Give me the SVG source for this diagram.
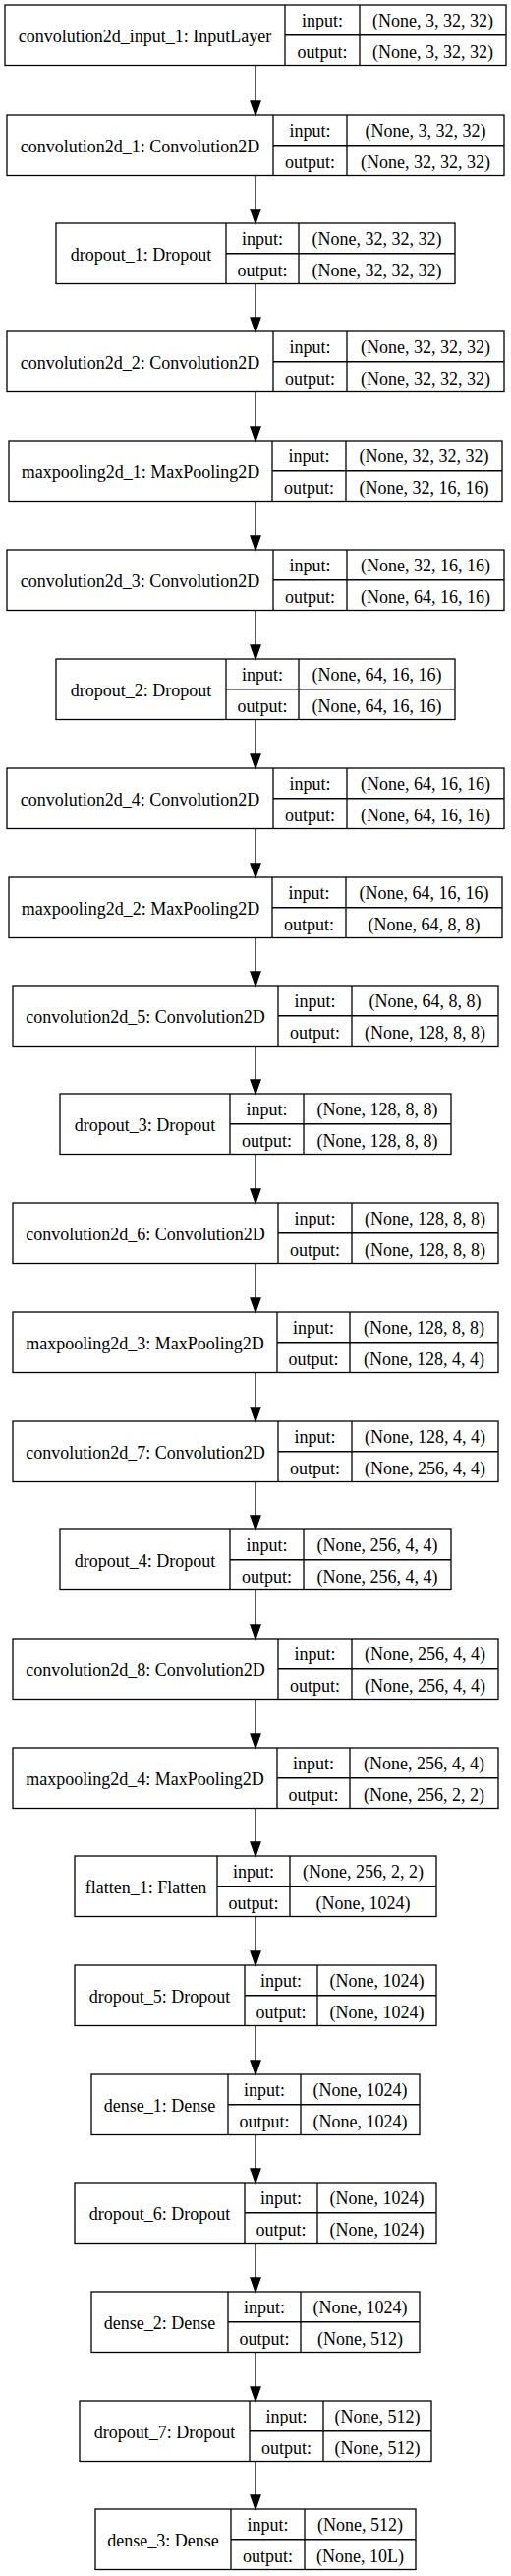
<svg xmlns="http://www.w3.org/2000/svg" width="520" height="2619" viewBox="0 0 520 2619">
<style>
.b{fill:none;stroke:#000;stroke-width:1.3}
.bg{fill:#fff}
.e{stroke:#000;stroke-width:1.3;fill:none}
.h{fill:#000;stroke:#000;stroke-width:1.3}
text{font-family:"Liberation Serif","Times New Roman",serif;font-size:18px;fill:#000;text-anchor:middle}
</style>
<rect class="bg" x="0" y="0" width="520" height="2619"/>
<g id="connectors">
<path class="e" d="M260 66.5V103 M260 178.5V213 M260 288.5V323 M260 398.5V434 M260 509.5V545 M260 620.5V656 M260 731.5V767 M260 842.5V878 M260 953.5V988 M260 1063.5V1098 M260 1173.5V1209 M260 1284.5V1320 M260 1395.5V1431 M260 1506.5V1541 M260 1616.5V1652 M260 1727.5V1763 M260 1838.5V1873 M260 1948.5V1984 M260 2059.5V2095 M260 2170.5V2205 M260 2280.5V2316 M260 2391.5V2427 M260 2502.5V2537"/>
<polygon class="h" points="255,103 265,103 260,117"/>
<polygon class="h" points="255,213 265,213 260,227"/>
<polygon class="h" points="255,323 265,323 260,337"/>
<polygon class="h" points="255,434 265,434 260,448"/>
<polygon class="h" points="255,545 265,545 260,559"/>
<polygon class="h" points="255,656 265,656 260,670"/>
<polygon class="h" points="255,767 265,767 260,781"/>
<polygon class="h" points="255,878 265,878 260,892"/>
<polygon class="h" points="255,988 265,988 260,1002"/>
<polygon class="h" points="255,1098 265,1098 260,1112"/>
<polygon class="h" points="255,1209 265,1209 260,1223"/>
<polygon class="h" points="255,1320 265,1320 260,1334"/>
<polygon class="h" points="255,1431 265,1431 260,1445"/>
<polygon class="h" points="255,1541 265,1541 260,1555"/>
<polygon class="h" points="255,1652 265,1652 260,1666"/>
<polygon class="h" points="255,1763 265,1763 260,1777"/>
<polygon class="h" points="255,1873 265,1873 260,1887"/>
<polygon class="h" points="255,1984 265,1984 260,1998"/>
<polygon class="h" points="255,2095 265,2095 260,2109"/>
<polygon class="h" points="255,2205 265,2205 260,2219"/>
<polygon class="h" points="255,2316 265,2316 260,2330"/>
<polygon class="h" points="255,2427 265,2427 260,2441"/>
<polygon class="h" points="255,2537 265,2537 260,2551"/>
</g>

<g id="convolution2d_input_1" transform="translate(0,5)">
<rect class="b" x="5" y="0" width="510" height="61.5"/>
<path class="b" d="M290 0V61.5M366 0V61.5M290 30.75H515"/>
<text x="147.5" y="37.5">convolution2d_input_1: InputLayer</text>
<text x="328" y="22">input:</text><text x="328" y="53.5">output:</text>
<text x="440.5" y="22">(None, 3, 32, 32)</text><text x="440.5" y="53.5">(None, 3, 32, 32)</text>
</g>

<g id="convolution2d_1" transform="translate(0,117)">
<rect class="b" x="7" y="0" width="506" height="61.5"/>
<path class="b" d="M278 0V61.5M353 0V61.5M278 30.75H513"/>
<text x="142.5" y="37.5">convolution2d_1: Convolution2D</text>
<text x="315.5" y="22">input:</text><text x="315.5" y="53.5">output:</text>
<text x="433" y="22">(None, 3, 32, 32)</text><text x="433" y="53.5">(None, 32, 32, 32)</text>
</g>

<g id="dropout_1" transform="translate(0,227)">
<rect class="b" x="57" y="0" width="406" height="61.5"/>
<path class="b" d="M230 0V61.5M304 0V61.5M230 30.75H463"/>
<text x="143.5" y="37.5">dropout_1: Dropout</text>
<text x="267" y="22">input:</text><text x="267" y="53.5">output:</text>
<text x="383.5" y="22">(None, 32, 32, 32)</text><text x="383.5" y="53.5">(None, 32, 32, 32)</text>
</g>

<g id="convolution2d_2" transform="translate(0,337)">
<rect class="b" x="7" y="0" width="506" height="61.5"/>
<path class="b" d="M278 0V61.5M353 0V61.5M278 30.75H513"/>
<text x="142.5" y="37.5">convolution2d_2: Convolution2D</text>
<text x="315.5" y="22">input:</text><text x="315.5" y="53.5">output:</text>
<text x="433" y="22">(None, 32, 32, 32)</text><text x="433" y="53.5">(None, 32, 32, 32)</text>
</g>

<g id="maxpooling2d_1" transform="translate(0,448)">
<rect class="b" x="9" y="0" width="502" height="61.5"/>
<path class="b" d="M277 0V61.5M352 0V61.5M277 30.75H511"/>
<text x="143" y="37.5">maxpooling2d_1: MaxPooling2D</text>
<text x="314.5" y="22">input:</text><text x="314.5" y="53.5">output:</text>
<text x="431.5" y="22">(None, 32, 32, 32)</text><text x="431.5" y="53.5">(None, 32, 16, 16)</text>
</g>

<g id="convolution2d_3" transform="translate(0,559)">
<rect class="b" x="7" y="0" width="506" height="61.5"/>
<path class="b" d="M278 0V61.5M353 0V61.5M278 30.75H513"/>
<text x="142.5" y="37.5">convolution2d_3: Convolution2D</text>
<text x="315.5" y="22">input:</text><text x="315.5" y="53.5">output:</text>
<text x="433" y="22">(None, 32, 16, 16)</text><text x="433" y="53.5">(None, 64, 16, 16)</text>
</g>

<g id="dropout_2" transform="translate(0,670)">
<rect class="b" x="57" y="0" width="406" height="61.5"/>
<path class="b" d="M230 0V61.5M304 0V61.5M230 30.75H463"/>
<text x="143.5" y="37.5">dropout_2: Dropout</text>
<text x="267" y="22">input:</text><text x="267" y="53.5">output:</text>
<text x="383.5" y="22">(None, 64, 16, 16)</text><text x="383.5" y="53.5">(None, 64, 16, 16)</text>
</g>

<g id="convolution2d_4" transform="translate(0,781)">
<rect class="b" x="7" y="0" width="506" height="61.5"/>
<path class="b" d="M278 0V61.5M353 0V61.5M278 30.75H513"/>
<text x="142.5" y="37.5">convolution2d_4: Convolution2D</text>
<text x="315.5" y="22">input:</text><text x="315.5" y="53.5">output:</text>
<text x="433" y="22">(None, 64, 16, 16)</text><text x="433" y="53.5">(None, 64, 16, 16)</text>
</g>

<g id="maxpooling2d_2" transform="translate(0,892)">
<rect class="b" x="9" y="0" width="502" height="61.5"/>
<path class="b" d="M277 0V61.5M352 0V61.5M277 30.75H511"/>
<text x="143" y="37.5">maxpooling2d_2: MaxPooling2D</text>
<text x="314.5" y="22">input:</text><text x="314.5" y="53.5">output:</text>
<text x="431.5" y="22">(None, 64, 16, 16)</text><text x="431.5" y="53.5">(None, 64, 8, 8)</text>
</g>

<g id="convolution2d_5" transform="translate(0,1002)">
<rect class="b" x="13" y="0" width="494" height="61.5"/>
<path class="b" d="M283 0V61.5M358 0V61.5M283 30.75H507"/>
<text x="148" y="37.5">convolution2d_5: Convolution2D</text>
<text x="320.5" y="22">input:</text><text x="320.5" y="53.5">output:</text>
<text x="432.5" y="22">(None, 64, 8, 8)</text><text x="432.5" y="53.5">(None, 128, 8, 8)</text>
</g>

<g id="dropout_3" transform="translate(0,1112)">
<rect class="b" x="61" y="0" width="398" height="61.5"/>
<path class="b" d="M234 0V61.5M309 0V61.5M234 30.75H459"/>
<text x="147.5" y="37.5">dropout_3: Dropout</text>
<text x="271.5" y="22">input:</text><text x="271.5" y="53.5">output:</text>
<text x="384" y="22">(None, 128, 8, 8)</text><text x="384" y="53.5">(None, 128, 8, 8)</text>
</g>

<g id="convolution2d_6" transform="translate(0,1223)">
<rect class="b" x="13" y="0" width="494" height="61.5"/>
<path class="b" d="M283 0V61.5M358 0V61.5M283 30.75H507"/>
<text x="148" y="37.5">convolution2d_6: Convolution2D</text>
<text x="320.5" y="22">input:</text><text x="320.5" y="53.5">output:</text>
<text x="432.5" y="22">(None, 128, 8, 8)</text><text x="432.5" y="53.5">(None, 128, 8, 8)</text>
</g>

<g id="maxpooling2d_3" transform="translate(0,1334)">
<rect class="b" x="13" y="0" width="494" height="61.5"/>
<path class="b" d="M282 0V61.5M356 0V61.5M282 30.75H507"/>
<text x="147.5" y="37.5">maxpooling2d_3: MaxPooling2D</text>
<text x="319" y="22">input:</text><text x="319" y="53.5">output:</text>
<text x="431.5" y="22">(None, 128, 8, 8)</text><text x="431.5" y="53.5">(None, 128, 4, 4)</text>
</g>

<g id="convolution2d_7" transform="translate(0,1445)">
<rect class="b" x="13" y="0" width="494" height="61.5"/>
<path class="b" d="M283 0V61.5M358 0V61.5M283 30.75H507"/>
<text x="148" y="37.5">convolution2d_7: Convolution2D</text>
<text x="320.5" y="22">input:</text><text x="320.5" y="53.5">output:</text>
<text x="432.5" y="22">(None, 128, 4, 4)</text><text x="432.5" y="53.5">(None, 256, 4, 4)</text>
</g>

<g id="dropout_4" transform="translate(0,1555)">
<rect class="b" x="61" y="0" width="398" height="61.5"/>
<path class="b" d="M234 0V61.5M309 0V61.5M234 30.75H459"/>
<text x="147.5" y="37.5">dropout_4: Dropout</text>
<text x="271.5" y="22">input:</text><text x="271.5" y="53.5">output:</text>
<text x="384" y="22">(None, 256, 4, 4)</text><text x="384" y="53.5">(None, 256, 4, 4)</text>
</g>

<g id="convolution2d_8" transform="translate(0,1666)">
<rect class="b" x="13" y="0" width="494" height="61.5"/>
<path class="b" d="M283 0V61.5M358 0V61.5M283 30.75H507"/>
<text x="148" y="37.5">convolution2d_8: Convolution2D</text>
<text x="320.5" y="22">input:</text><text x="320.5" y="53.5">output:</text>
<text x="432.5" y="22">(None, 256, 4, 4)</text><text x="432.5" y="53.5">(None, 256, 4, 4)</text>
</g>

<g id="maxpooling2d_4" transform="translate(0,1777)">
<rect class="b" x="13" y="0" width="494" height="61.5"/>
<path class="b" d="M282 0V61.5M356 0V61.5M282 30.75H507"/>
<text x="147.5" y="37.5">maxpooling2d_4: MaxPooling2D</text>
<text x="319" y="22">input:</text><text x="319" y="53.5">output:</text>
<text x="431.5" y="22">(None, 256, 4, 4)</text><text x="431.5" y="53.5">(None, 256, 2, 2)</text>
</g>

<g id="flatten_1" transform="translate(0,1887)">
<rect class="b" x="76" y="0" width="368" height="61.5"/>
<path class="b" d="M221 0V61.5M295 0V61.5M221 30.75H444"/>
<text x="148.5" y="37.5">flatten_1: Flatten</text>
<text x="258" y="22">input:</text><text x="258" y="53.5">output:</text>
<text x="369.5" y="22">(None, 256, 2, 2)</text><text x="369.5" y="53.5">(None, 1024)</text>
</g>

<g id="dropout_5" transform="translate(0,1998)">
<rect class="b" x="76" y="0" width="368" height="61.5"/>
<path class="b" d="M249 0V61.5M323 0V61.5M249 30.75H444"/>
<text x="162.5" y="37.5">dropout_5: Dropout</text>
<text x="286" y="22">input:</text><text x="286" y="53.5">output:</text>
<text x="383.5" y="22">(None, 1024)</text><text x="383.5" y="53.5">(None, 1024)</text>
</g>

<g id="dense_1" transform="translate(0,2109)">
<rect class="b" x="93" y="0" width="334" height="61.5"/>
<path class="b" d="M232 0V61.5M306 0V61.5M232 30.75H427"/>
<text x="162.5" y="37.5">dense_1: Dense</text>
<text x="269" y="22">input:</text><text x="269" y="53.5">output:</text>
<text x="366.5" y="22">(None, 1024)</text><text x="366.5" y="53.5">(None, 1024)</text>
</g>

<g id="dropout_6" transform="translate(0,2219)">
<rect class="b" x="76" y="0" width="368" height="61.5"/>
<path class="b" d="M249 0V61.5M323 0V61.5M249 30.75H444"/>
<text x="162.5" y="37.5">dropout_6: Dropout</text>
<text x="286" y="22">input:</text><text x="286" y="53.5">output:</text>
<text x="383.5" y="22">(None, 1024)</text><text x="383.5" y="53.5">(None, 1024)</text>
</g>

<g id="dense_2" transform="translate(0,2330)">
<rect class="b" x="93" y="0" width="334" height="61.5"/>
<path class="b" d="M232 0V61.5M306 0V61.5M232 30.75H427"/>
<text x="162.5" y="37.5">dense_2: Dense</text>
<text x="269" y="22">input:</text><text x="269" y="53.5">output:</text>
<text x="366.5" y="22">(None, 1024)</text><text x="366.5" y="53.5">(None, 512)</text>
</g>

<g id="dropout_7" transform="translate(0,2441)">
<rect class="b" x="81" y="0" width="358" height="61.5"/>
<path class="b" d="M254 0V61.5M329 0V61.5M254 30.75H439"/>
<text x="167.5" y="37.5">dropout_7: Dropout</text>
<text x="291.5" y="22">input:</text><text x="291.5" y="53.5">output:</text>
<text x="384" y="22">(None, 512)</text><text x="384" y="53.5">(None, 512)</text>
</g>

<g id="dense_3" transform="translate(0,2551)">
<rect class="b" x="97" y="0" width="326" height="61.5"/>
<path class="b" d="M235 0V61.5M310 0V61.5M235 30.75H423"/>
<text x="166" y="37.5">dense_3: Dense</text>
<text x="272.5" y="22">input:</text><text x="272.5" y="53.5">output:</text>
<text x="366.5" y="22">(None, 512)</text><text x="366.5" y="53.5">(None, 10L)</text>
</g>
</svg>
